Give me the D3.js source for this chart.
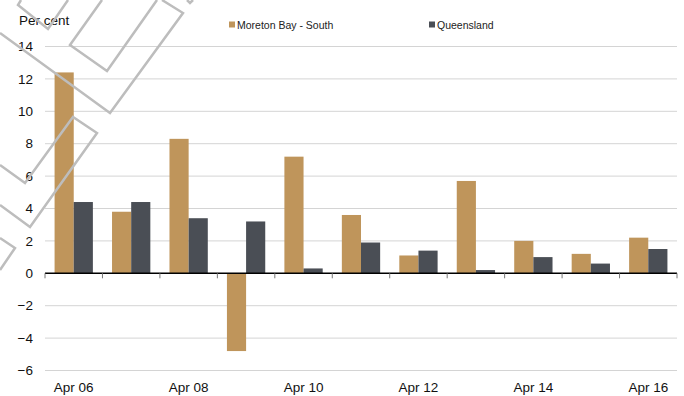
<!DOCTYPE html>
<html><head><meta charset="utf-8">
<script src="https://cdn.jsdelivr.net/npm/d3@7"></script>
<style>html,body{margin:0;padding:0;background:#fff;}svg{display:block;font-family:"Liberation Sans",Arial,sans-serif;}</style>
</head><body><svg id="c" width="684" height="396"></svg>
<script>
const categories = ["Apr 06","Apr 07","Apr 08","Apr 09","Apr 10","Apr 11","Apr 12","Apr 13","Apr 14","Apr 15","Apr 16"];
const moretonBaySouth = [12.4, 3.8, 8.3, -4.8, 7.2, 3.6, 1.1, 5.7, 2.0, 1.2, 2.2];
const queensland = [4.4, 4.4, 3.4, 3.2, 0.3, 1.9, 1.4, 0.2, 1.0, 0.6, 1.5];
const seriesNames = ["Moreton Bay - South", "Queensland"];
const yTicks = [-6, -4, -2, 0, 2, 4, 6, 8, 10, 12, 14];
const xLabels = ["Apr 06","Apr 08","Apr 10","Apr 12","Apr 14","Apr 16"];
const colors = ["#BF955B", "#4A4E55"];

const svg = d3.select("#c");
const L = 45, R = 677, T = 46.5, B = 370.5;
const x = d3.scaleBand().domain(categories).range([L, R]).paddingInner(0).paddingOuter(0);
const x1 = d3.scaleBand().domain(seriesNames).range([0, x.bandwidth()]).paddingInner(0).paddingOuter(0.5);
const y = d3.scaleLinear().domain([-6, 14]).range([B, T]);

// gridlines
svg.append("g").selectAll("line").data(yTicks.filter(d => d !== 0)).join("line")
  .attr("x1", L).attr("x2", R).attr("y1", d => y(d)).attr("y2", d => y(d))
  .attr("stroke", "#d4d4d4").attr("stroke-width", 1);

// y tick labels
svg.append("g").selectAll("text").data(yTicks).join("text")
  .attr("x", 33).attr("y", d => y(d)).attr("dy", "0.35em")
  .attr("text-anchor", "end").attr("font-size", 13.5).attr("fill", "#111")
  .text(d => d < 0 ? "\u2212" + Math.abs(d) : d);

svg.append("text").attr("x", 19).attr("y", 25).attr("font-size", 13.5).attr("fill", "#111").text("Per cent");

// bars
const data = categories.map((c, i) => ({c, vals: [moretonBaySouth[i], queensland[i]]}));
const g = svg.append("g");
data.forEach(d => {
  d.vals.forEach((v, j) => {
    g.append("rect")
      .attr("x", x(d.c) + x1(seriesNames[j]))
      .attr("width", x1.bandwidth())
      .attr("y", y(Math.max(0, v)))
      .attr("height", Math.abs(y(v) - y(0)))
      .attr("fill", colors[j]);
  });
});

// zero axis
svg.append("line").attr("x1", L).attr("x2", R).attr("y1", y(0)).attr("y2", y(0)).attr("stroke", "#000").attr("stroke-width", 1.5);
const bounds = categories.map(c => x(c)).concat([R]);
svg.append("g").selectAll("line").data(bounds).join("line")
  .attr("x1", d => d).attr("x2", d => d).attr("y1", y(0)).attr("y2", y(0) + 5)
  .attr("stroke", "#777").attr("stroke-width", 1);

// x labels
svg.append("g").selectAll("text").data(xLabels).join("text")
  .attr("x", d => x(d) + x.bandwidth() / 2).attr("y", 392)
  .attr("text-anchor", "middle").attr("font-size", 13.5).attr("fill", "#111").text(d => d);

// legend
const legX = [229, 429];
seriesNames.forEach((n, j) => {
  svg.append("rect").attr("x", legX[j]).attr("y", 21.5).attr("width", 6).attr("height", 6).attr("fill", colors[j]);
  svg.append("text").attr("x", legX[j] + 8).attr("y", 28.5).attr("font-size", 10.5).attr("fill", "#222").text(n);
});

// watermark decoration
const wm = [
  [[21,0],[18,5],[48,29],[68,0]],
  [[102,0],[70,45],[107,71],[157,0]],
  [[0,33],[110,113],[183,13],[162,0]],
  [[0,165],[25,183],[73,117],[97,133],[30,227],[0,205]],
  [[0,238],[15,248],[0,270]],
  [[187,0],[190,3],[193,0]]
];
svg.append("g").selectAll("path").data(wm).join("path")
  .attr("d", d => d3.line()(d)).attr("fill", "none")
  .attr("stroke", "#bdbdbd").attr("stroke-width", 2.5).attr("stroke-linejoin", "miter");
</script></body></html>
